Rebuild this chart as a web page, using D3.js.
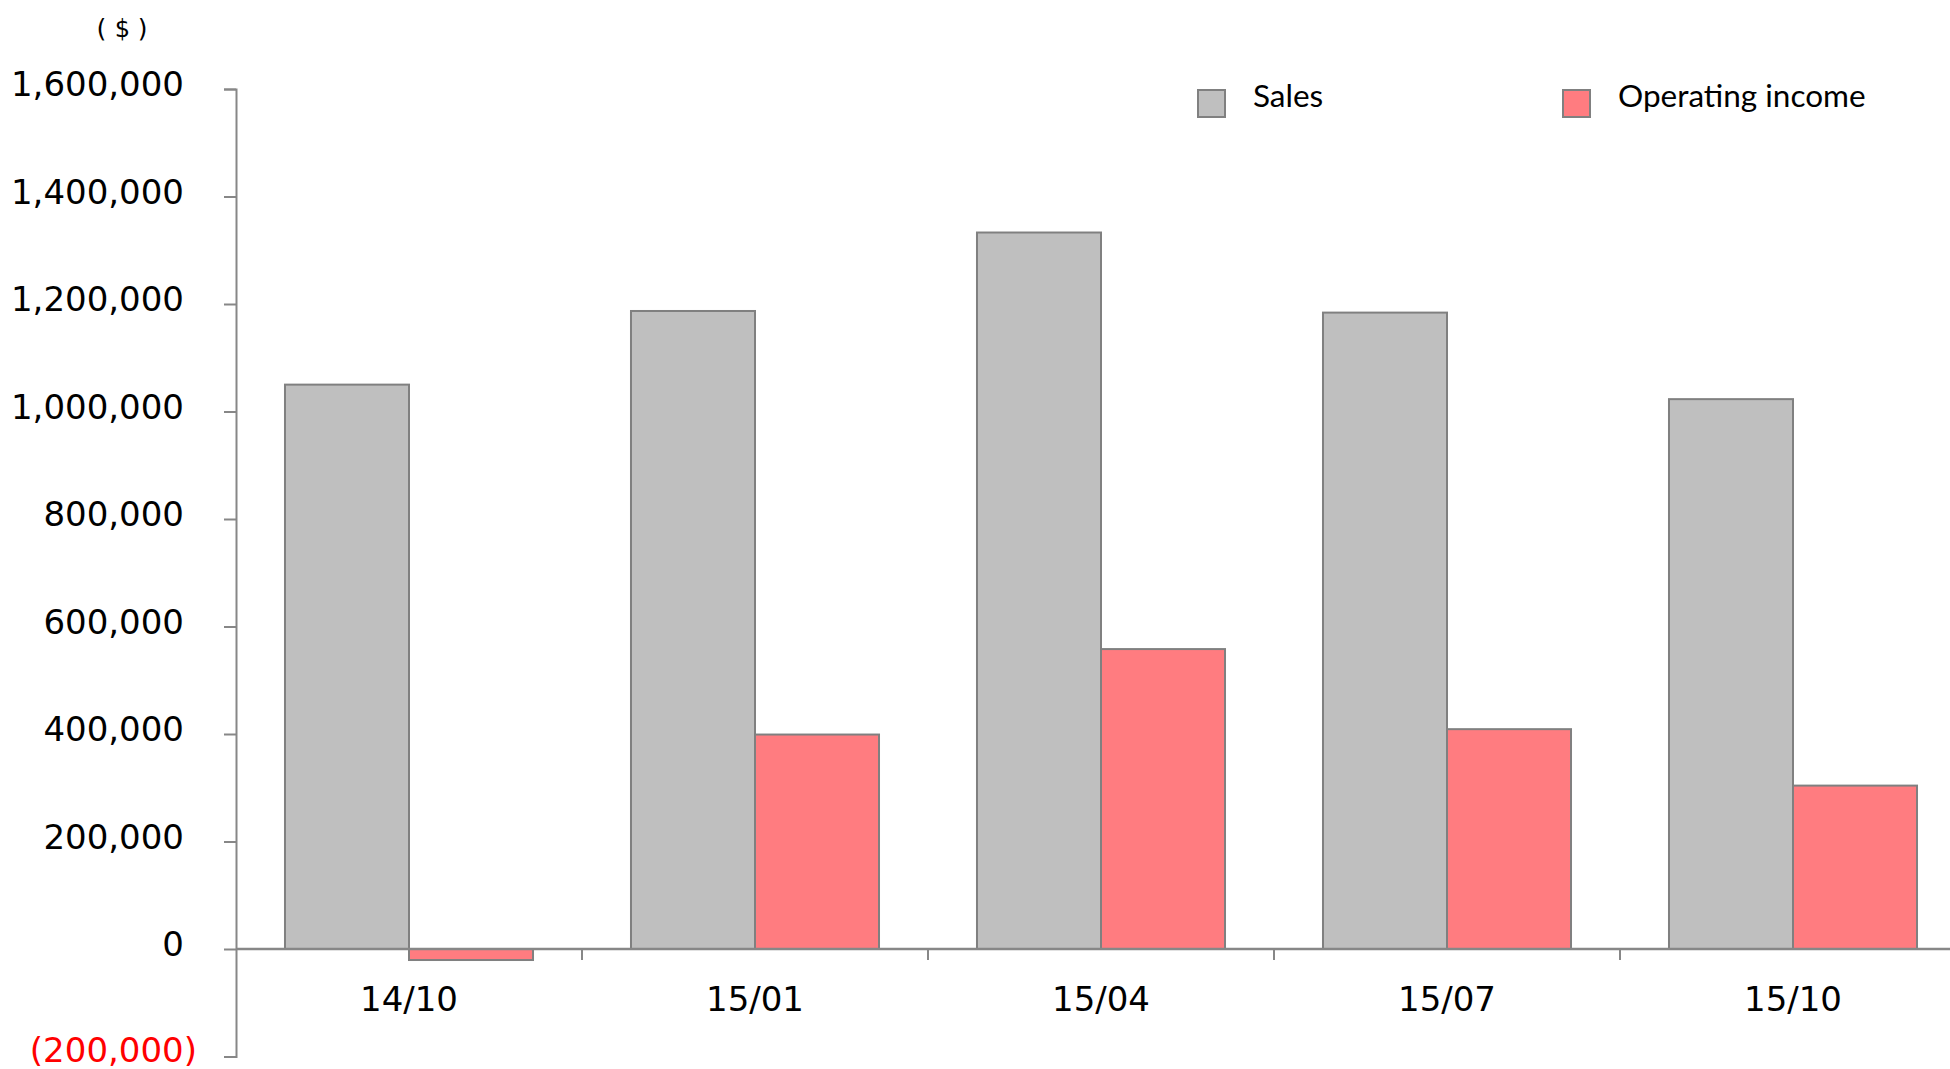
<!DOCTYPE html>
<html>
<head>
<meta charset="utf-8">
<script src="https://cdn.jsdelivr.net/npm/d3@7"></script>
<style>
  html, body { margin: 0; padding: 0; background: #fff; }
  svg { display: block; }
</style>
</head>
<body>
<svg id="chart" width="1950" height="1069"></svg>
<script>
const categories = ["14/10", "15/01", "15/04", "15/07", "15/10"];
const seriesNames = ["Sales", "Operating income"];
const salesValues = [1050000, 1187000, 1333000, 1184000, 1023000];
const operatingIncomeValues = [-20500, 399000, 558000, 409000, 304000];
const yTickValues = [-200000, 0, 200000, 400000, 600000, 800000, 1000000, 1200000, 1400000, 1600000];
const unitLabel = "($)";

const colors = { "Sales": "#bfbfbf", "Operating income": "#ff7c80" };
const axisColor = "#878787";
const barStroke = "#808080";

const svg = d3.select("#chart");
const plotLeft = 236, plotRight = 1966;
const y = d3.scaleLinear().domain([-200000, 1600000]).range([1056.5, 89]);
const x0 = d3.scaleBand().domain(categories).range([plotLeft, plotRight]).padding(0);
const x1 = d3.scaleBand().domain(seriesNames).range([0, x0.bandwidth()]).paddingInner(0).paddingOuter(0.395);

const rows = categories.map((c, i) => ({ cat: c, values: [
  { key: "Sales", value: salesValues[i] },
  { key: "Operating income", value: operatingIncomeValues[i] }
]}));

// Bars
const groups = svg.append("g").selectAll("g").data(rows).join("g")
  .attr("transform", d => `translate(${x0(d.cat)},0)`);
groups.selectAll("rect").data(d => d.values).join("rect")
  .attr("x", d => x1(d.key))
  .attr("width", x1.bandwidth())
  .attr("y", d => y(Math.max(0, d.value)))
  .attr("height", d => Math.abs(y(d.value) - y(0)))
  .attr("fill", d => colors[d.key])
  .attr("stroke", barStroke)
  .attr("stroke-width", 2);

// Y axis
const yAxis = d3.axisLeft(y).tickValues(yTickValues).tickSize(12).tickPadding(40)
  .tickFormat(v => v < 0 ? "(" + d3.format(",")(-v) + ")" : d3.format(",")(v));
const yg = svg.append("g").attr("transform", `translate(${plotLeft},0)`).call(yAxis);
yg.select(".domain").attr("stroke", axisColor).attr("stroke-width", 2);
yg.selectAll(".tick line").attr("stroke", axisColor).attr("stroke-width", 2);
yg.selectAll(".tick text")
  .attr("font-family", "DejaVu Sans, Verdana, sans-serif")
  .attr("font-size", 34)
  .attr("fill", d => d < 0 ? "#ff0000" : "#000")
  .attr("dy", d => d < 0 ? "0.15em" : "0.2em")
  .attr("x", d => d < 0 ? -39 : -52);

// X axis line at zero
svg.append("line")
  .attr("x1", plotLeft).attr("x2", 1950)
  .attr("y1", y(0)).attr("y2", y(0))
  .attr("stroke", axisColor).attr("stroke-width", 2.5);

// Category boundary ticks
svg.append("g").selectAll("line").data(categories.slice(1)).join("line")
  .attr("x1", d => x0(d)).attr("x2", d => x0(d))
  .attr("y1", y(0)).attr("y2", y(0) + 11)
  .attr("stroke", axisColor).attr("stroke-width", 2);

// Category labels
svg.append("g").selectAll("text").data(categories).join("text")
  .attr("x", d => x0(d) + x0.bandwidth() / 2)
  .attr("y", y(0) + 50)
  .attr("dy", "0.35em")
  .attr("text-anchor", "middle")
  .attr("font-family", "DejaVu Sans, Verdana, sans-serif")
  .attr("font-size", 34)
  .attr("fill", "#000")
  .text(d => d);

// Unit label
svg.append("text")
  .attr("x", 125).attr("y", 28).attr("dy", "0.35em")
  .attr("text-anchor", "middle")
  .attr("font-family", "DejaVu Sans Mono, monospace")
  .attr("font-size", 25)
  .attr("letter-spacing", 6)
  .attr("fill", "#000")
  .text(unitLabel);

// Legend
const legendX = { "Sales": 1198, "Operating income": 1563 };
const lg = svg.append("g").selectAll("g").data(seriesNames).join("g")
  .attr("transform", d => `translate(${legendX[d]},90)`);
lg.append("rect").attr("width", 27).attr("height", 27)
  .attr("fill", d => colors[d]).attr("stroke", barStroke).attr("stroke-width", 2);
lg.append("text").attr("x", 55).attr("y", 6).attr("dy", "0.35em")
  .attr("font-family", "Lato, Carlito, Calibri, sans-serif")
  .attr("font-size", 31.5)
  .attr("fill", "#000")
  .text(d => d);
</script>
</body>
</html>
